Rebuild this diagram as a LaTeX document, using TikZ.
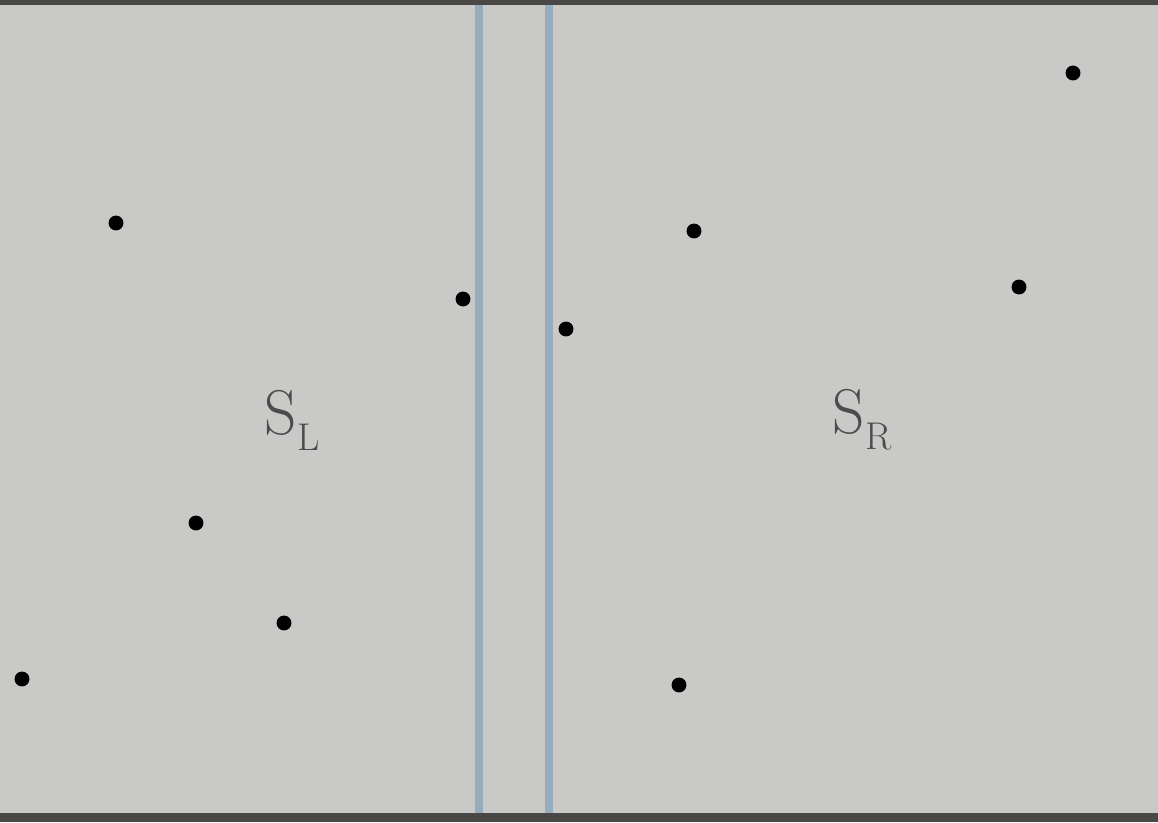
\documentclass[tikz,border=0pt]{standalone}
\usepackage{tikz}
\usepackage{amsmath}
\usetikzlibrary {positioning}

\definecolor{paper}{HTML}{C9C9C7}
\definecolor{edge}{HTML}{4A4846}
\definecolor{cut}{HTML}{97ACBD}
\definecolor{ink}{HTML}{4C4C4C}

\begin{document}
\begin{tikzpicture}[x=0.02cm,y=-0.02cm]
\fill[paper] (0,0) rectangle (1158,822);
\useasboundingbox (0,0) rectangle (1158,822);

\fill[edge] (0,0) rectangle (1158,5);

\fill[edge] (0,813) rectangle (1158,822);

\coordinate (T1) at (479,5);

\coordinate (U1) at (479,813);

\coordinate (T2) at (549,5);

\coordinate (U2) at (549,813);

\draw[cut,line width=5] (T1) -- (U1);

\draw[cut,line width=5] (T2) -- (U2);

\node[circle,fill=black,inner sep=3pt] (P1) at (116,223) {};

\node[circle,fill=black,inner sep=3pt] (P2) at (463,299) {};

\node[circle,fill=black,inner sep=3pt] (P3) at (196,523) {};

\node[circle,fill=black,inner sep=3pt] (P4) at (284,623) {};

\node[circle,fill=black,inner sep=3pt] (P5) at (22,679) {};

\node[circle,fill=black,inner sep=3pt] (P6) at (694,231) {};

\node[circle,fill=black,inner sep=3pt] (P7) at (566,329) {};

\node[circle,fill=black,inner sep=3pt] (P8) at (1073,73) {};

\node[circle,fill=black,inner sep=3pt] (P9) at (1019,287) {};

\node[circle,fill=black,inner sep=3pt] (P10) at (679,685) {};

\node[text=ink,font=\fontsize{36}{40}\selectfont] (SL) at (292,420) {S\raisebox{-0.25em}{\fontsize{22}{24}\selectfont L}};

\node[text=ink,font=\fontsize{36}{40}\selectfont] (SR) at (862,420) {S\raisebox{-0.25em}{\fontsize{22}{24}\selectfont R}};

\end{tikzpicture}
\end{document}
